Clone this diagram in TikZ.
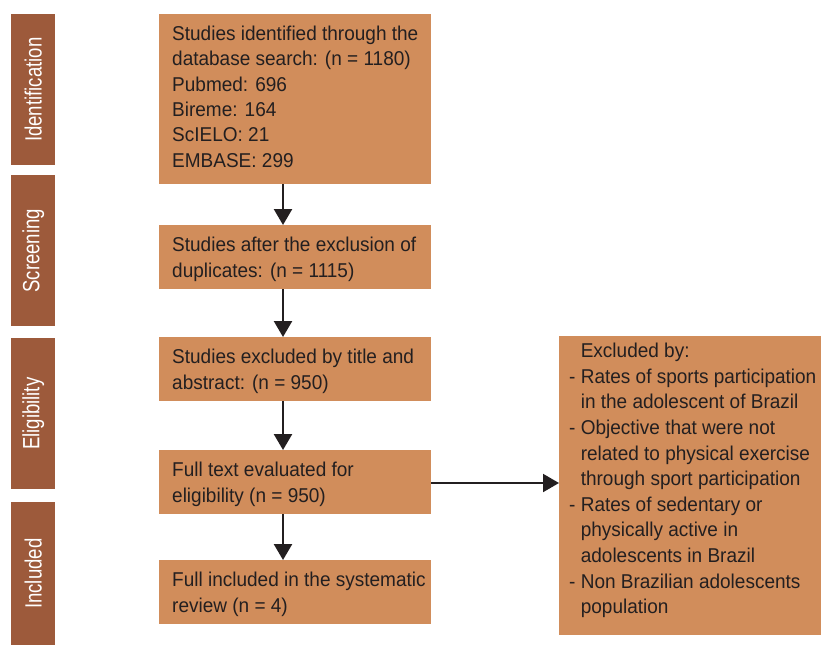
\documentclass[tikz,border=0pt]{standalone}
\usepackage{fontspec}
\setmainfont{Liberation Sans}[FakeStretch=0.95]
\newfontfamily\barfont{Liberation Sans}[FakeStretch=0.79]
\usetikzlibrary{arrows.meta}
\definecolor{boxfill}{RGB}{209,141,91}
\definecolor{barfill}{RGB}{157,90,59}
\definecolor{ink}{RGB}{35,31,32}
\tikzset{
  box/.style={fill=boxfill, draw=none, inner sep=0pt, anchor=north west},
  bar/.style={fill=barfill, draw=none, inner sep=0pt, anchor=north west, minimum width=44pt, minimum height=151pt},
  bartext/.style={text=white, rotate=90, font=\barfont\fontsize{23.5}{26}\selectfont, inner sep=0pt},
  txt/.style={text=ink, anchor=west, align=left, inner sep=0pt, font=\fontsize{20}{25.4}\selectfont},
  arr/.style={draw=ink, line width=2.5pt, -{Triangle[width=18pt,length=16pt]}},
}
\begin{document}
\begin{tikzpicture}[x=1pt,y=-1pt]
\useasboundingbox (0,0) rectangle (821,645);
% side bars
\node[bar] (sb1) at (11,14) {};
\node[bar] (sb2) at (11,175) {};
\node[bar] (sb3) at (11,338) {};
\node[bar, minimum height=143pt] (sb4) at (11,502) {};
\node[bartext] (l1) at (sb1.center) {Identification};
\node[bartext] (l2) at (sb2.center) {Screening};
\node[bartext] (l3) at (sb3.center) {Eligibility};
\node[bartext] (l4) at (sb4.center) {Included};
% main boxes
\node[box, minimum width=272pt, minimum height=170pt] (b1) at (159,14) {};
\node[box, minimum width=272pt, minimum height=64pt] (b2) at (159,225) {};
\node[box, minimum width=272pt, minimum height=64pt] (b3) at (159,337) {};
\node[box, minimum width=272pt, minimum height=64pt] (b4) at (159,450) {};
\node[box, minimum width=272pt, minimum height=64pt] (b5) at (159,560) {};
\node[box, minimum width=262pt, minimum height=299pt] (bx) at (559,336) {};
\node[txt] (t1) at ([xshift=13pt,yshift=2.5pt]b1.west) {Studies identified through the\\database search: (n = 1180)\\Pubmed: 696\\Bireme: 164\\ScIELO: 21\\EMBASE: 299};
\node[txt] (t2) at ([xshift=13pt,yshift=-2pt]b2.west) {Studies after the exclusion of\\duplicates: (n = 1115)};
\node[txt] (t3) at ([xshift=13pt,yshift=-2pt]b3.west) {Studies excluded by title and\\abstract: (n = 950)};
\node[txt] (t4) at ([xshift=13pt,yshift=-2pt]b4.west) {Full text evaluated for\\eligibility (n = 950)};
\node[txt] (t5) at ([xshift=13pt,yshift=-2pt]b5.west) {Full included in the systematic\\review (n = 4)};
\node[txt, anchor=north west, font=\fontsize{20}{25.6}\selectfont] (tx) at (569,343) {\phantom{- }Excluded by:\\- Rates of sports participation\\\phantom{- }in the adolescent of Brazil\\- Objective that were not\\\phantom{- }related to physical exercise\\\phantom{- }through sport participation\\- Rates of sedentary or\\\phantom{- }physically active in\\\phantom{- }adolescents in Brazil\\- Non Brazilian adolescents\\\phantom{- }population};
% arrows
\draw[arr] (b1.south -| 283,0) -- (b2.north -| 283,0);
\draw[arr] (b2.south -| 283,0) -- (b3.north -| 283,0);
\draw[arr] (b3.south -| 283,0) -- (b4.north -| 283,0);
\draw[arr] (b4.south -| 283,0) -- (b5.north -| 283,0);
\draw[arr, line width=2pt] (b4.east |- 0,483) -- (bx.west |- 0,483);
\end{tikzpicture}
\end{document}
